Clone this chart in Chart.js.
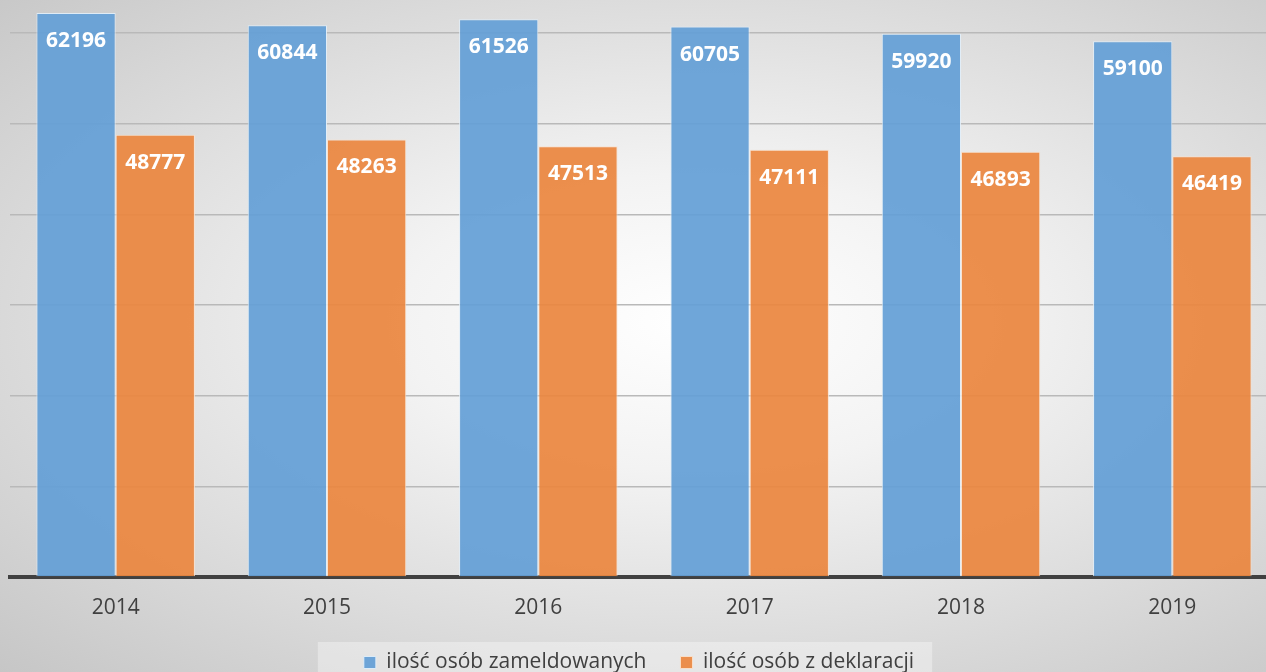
<!DOCTYPE html>
<html>
<head>
<meta charset="utf-8">
<script src="https://cdn.jsdelivr.net/npm/chart.js@4"></script>
<style>
  html, body { margin: 0; padding: 0; overflow: hidden; }
  html {
    background: radial-gradient(ellipse farthest-corner at 55% 48%, #ffffff 0%, #f3f3f3 30%, #c6c6c6 100%);
  }
  body { width: 1266px; height: 672px; }
  #wrap { width: 1278px; height: 672px; position: relative; }
</style>
</head>
<body>
<div id="wrap"><canvas id="chart"></canvas></div>
<script>
// Chart data
const years = ["2014", "2015", "2016", "2017", "2018", "2019"];
const registered = [62196, 60844, 61526, 60705, 59920, 59100];
const declared = [48777, 48263, 47513, 47111, 46893, 46419];
const seriesNames = ["ilość osób zameldowanych", "ilość osób z deklaracji"];
const gridValues = [0, 10000, 20000, 30000, 40000, 50000, 60000];

// white value labels inside the top of each bar
const barLabels = {
  id: "barLabels",
  afterDatasetsDraw(chart) {
    const ctx = chart.ctx;
    ctx.save();
    ctx.fillStyle = "#ffffff";
    ctx.font = "bold 21px 'Open Sans'";
    ctx.textAlign = "center";
    ctx.textBaseline = "middle";
    chart.data.datasets.forEach((ds, i) => {
      chart.getDatasetMeta(i).data.forEach((bar, j) => {
        ctx.fillText(ds.data[j], bar.x, bar.y + 28);
      });
    });
    ctx.restore();
  }
};

// light box behind the legend
const legendBox = {
  id: "legendBox",
  beforeDraw(chart) {
    const lg = chart.legend;
    if (!lg || !lg.legendHitBoxes.length) return;
    const boxes = lg.legendHitBoxes;
    const last = boxes[boxes.length - 1];
    const left = boxes[0].left - 46;
    const right = last.left + last.width + 18;
    const ctx = chart.ctx;
    ctx.save();
    ctx.fillStyle = "rgba(255,255,255,0.35)";
    ctx.fillRect(left, boxes[0].top - 10, right - left, 44);
    ctx.restore();
  }
};

new Chart(document.getElementById("chart"), {
  type: "bar",
  data: {
    labels: years,
    datasets: [
      {
        label: seriesNames[0],
        data: registered,
        backgroundColor: "rgba(100,159,214,0.93)",
        borderColor: "rgba(225,238,250,0.9)",
        borderWidth: 1
      },
      {
        label: seriesNames[1],
        data: declared,
        backgroundColor: "rgba(235,134,64,0.93)",
        borderColor: "rgba(250,225,205,0.9)",
        borderWidth: 1
      }
    ]
  },
  options: {
    responsive: true,
    maintainAspectRatio: false,
    animation: false,
    categoryPercentage: 0.75,
    barPercentage: 1.0,
    layout: { padding: 0 },
    scales: {
      x: {
        afterFit(scale) { scale.height = 41; },
        grid: { display: false, drawTicks: false },
        border: { display: true, color: "#404040", width: 4 },
        ticks: {
          color: "#404040",
          padding: 18,
          font: { family: "'Open Sans'", size: 21 }
        }
      },
      y: {
        min: 0,
        max: 63640,
        afterFit(scale) { scale.width = 10; },
        afterBuildTicks(scale) {
          scale.ticks = gridValues.map(v => ({ value: v }));
        },
        ticks: { display: false },
        border: { display: false },
        grid: {
          color: "#b9b9b9",
          lineWidth: 1.5,
          drawTicks: false
        }
      }
    },
    plugins: {
      tooltip: { enabled: false },
      legend: {
        position: "bottom",
        maxHeight: 54,
        labels: {
          color: "#404040",
          boxWidth: 12,
          boxHeight: 12,
          padding: 34,
          font: { family: "'Open Sans'", size: 21 }
        }
      }
    }
  },
  plugins: [legendBox, barLabels]
});
</script>
</body>
</html>
